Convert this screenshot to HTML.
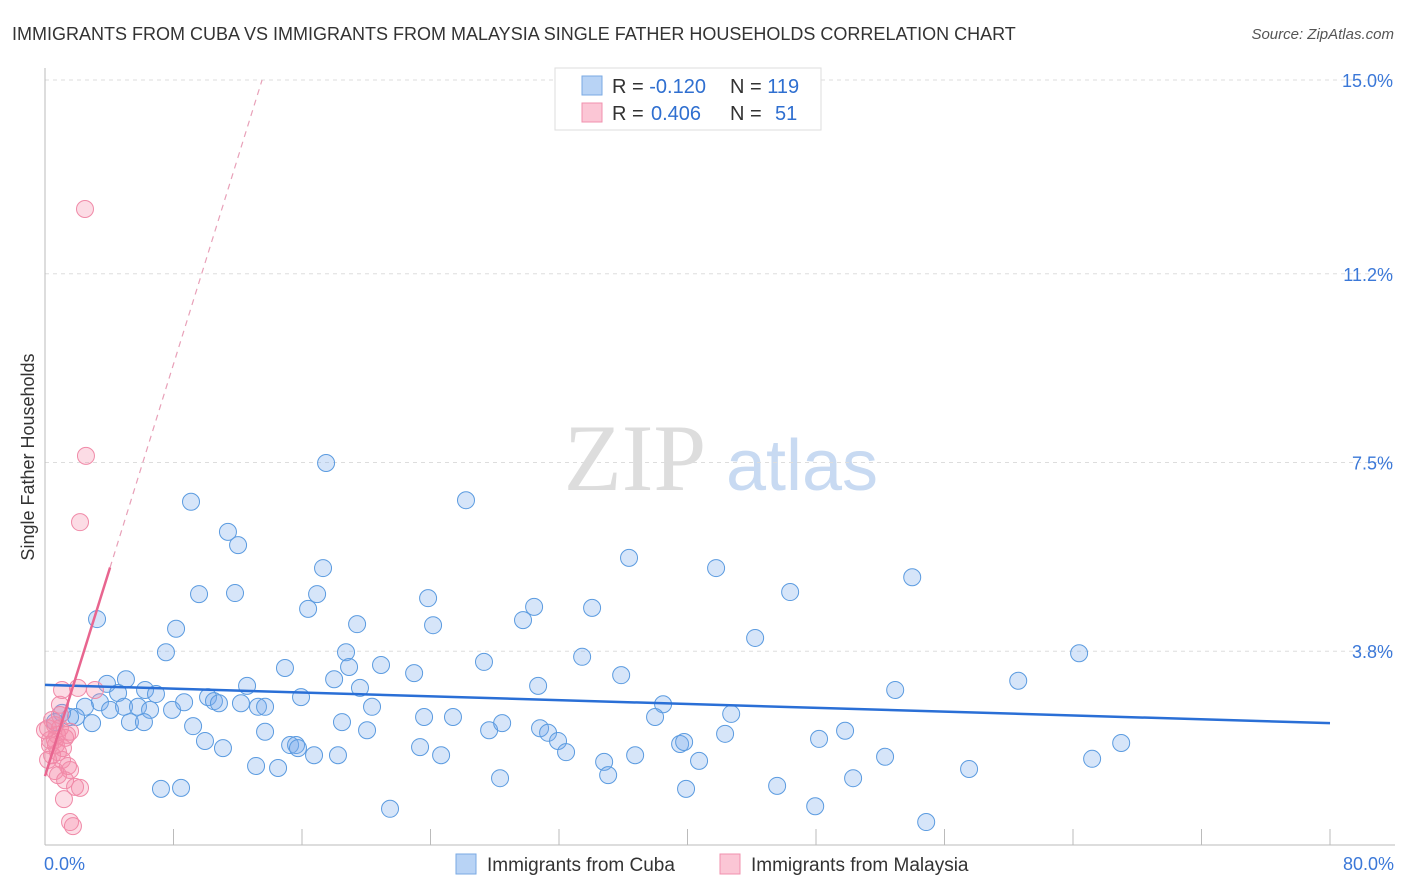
<!DOCTYPE html>
<html><head><meta charset="utf-8"><style>
body{margin:0;background:#fff;font-family:"Liberation Sans",sans-serif}
svg{display:block}
</style></head><body>
<svg id="chart" width="1406" height="892" xmlns="http://www.w3.org/2000/svg">
<text x="12" y="40" font-size="18" fill="#333">IMMIGRANTS FROM CUBA VS IMMIGRANTS FROM MALAYSIA SINGLE FATHER HOUSEHOLDS CORRELATION CHART</text>
<text x="1394" y="39" font-size="15" fill="#555" font-style="italic" text-anchor="end">Source: ZipAtlas.com</text>
<g>
<text x="635" y="490" font-size="95" fill="#ddd" font-family="Liberation Serif,serif" text-anchor="middle">ZIP</text>
<text x="802" y="490" font-size="72" fill="#c8daf2" text-anchor="middle">atlas</text>
</g>
<g id="grid"></g>
<g id="axes"></g>
<g id="pts"></g>
<g id="lines"></g>
<text transform="translate(34,457) rotate(-90)" font-size="18" fill="#333" text-anchor="middle">Single Father Households</text>
<g>
<rect x="555" y="68" width="266" height="62" fill="#fff" stroke="#ddd"/>
<rect x="582" y="76" width="20" height="19" fill="#b8d3f5" stroke="#7aa9e3"/>
<rect x="582" y="103" width="20" height="19" fill="#fbc6d5" stroke="#f090ae"/>
<text x="612" y="93" font-size="20" fill="#333">R = <tspan fill="#2f6fd0">-0.120</tspan></text>
<text x="730" y="93" font-size="20" fill="#333">N = <tspan fill="#2f6fd0">119</tspan></text>
<text x="612" y="120" font-size="20" fill="#333">R = <tspan fill="#2f6fd0" x="651">0.406</tspan></text>
<text x="730" y="120" font-size="20" fill="#333">N = <tspan fill="#2f6fd0" x="775">51</tspan></text>
</g>
<g>
<rect x="456" y="854" width="20" height="20" fill="#b8d3f5" stroke="#7aa9e3"/>
<text x="487" y="871" font-size="19" fill="#333">Immigrants from Cuba</text>
<rect x="720" y="854" width="20" height="20" fill="#fbc6d5" stroke="#f090ae"/>
<text x="751" y="871" font-size="19" fill="#333">Immigrants from Malaysia</text>
</g>
</svg>
<script>
const yTicks=[3.8,7.5,11.2,15.0];
const yTickLabels=["3.8%","7.5%","11.2%","15.0%"];
const xTickLabels=["0.0%","80.0%"];
const cubaX=[3.24,9.09,17.5,26.21,11.39,12.02,36.36,41.78,53.99,17.31,9.59,11.83,16.94,16.38,23.85,30.45,34.06,46.39,8.16,19.43,24.16,29.76,44.21,7.53,18.74,64.38,27.33,33.44,14.94,18.93,20.92,22.98,35.87,5.04,3.86,6.23,6.91,12.58,18.0,19.61,30.7,52.93,60.59,4.55,3.42,2.49,4.05,4.92,5.79,6.54,7.91,8.66,10.15,10.52,10.83,12.2,13.26,13.7,15.94,20.36,5.29,6.16,2.93,1.93,1.56,1.06,0.62,9.22,13.7,18.49,20.05,23.6,25.4,27.65,28.46,30.82,31.32,31.94,38.48,37.98,42.72,9.96,11.08,15.26,15.63,15.75,23.35,24.66,32.44,39.54,39.79,42.34,48.19,49.81,67.0,13.14,14.51,16.75,18.24,28.33,34.81,35.06,36.74,40.72,52.3,57.53,65.19,7.22,8.47,21.48,39.91,45.58,47.95,50.31,54.86];
const cubaY=[4.43,6.73,7.49,6.76,6.14,5.88,5.63,5.43,5.25,5.43,4.92,4.94,4.92,4.63,4.84,4.67,4.65,4.96,4.24,4.33,4.31,4.41,4.06,3.78,3.78,3.76,3.59,3.69,3.47,3.49,3.53,3.37,3.33,3.25,3.16,3.04,2.96,3.12,3.25,3.08,3.12,3.04,3.22,2.98,2.8,2.71,2.65,2.71,2.71,2.65,2.65,2.8,2.9,2.82,2.78,2.78,2.71,2.71,2.9,2.71,2.41,2.41,2.39,2.51,2.51,2.59,2.41,2.33,2.22,2.41,2.25,2.51,2.51,2.25,2.39,2.29,2.2,2.04,2.76,2.51,2.57,2.04,1.9,1.96,1.96,1.9,1.92,1.76,1.82,1.98,2.02,2.18,2.08,2.24,2.0,1.55,1.51,1.76,1.76,1.31,1.63,1.37,1.76,1.65,1.73,1.49,1.69,1.1,1.12,0.71,1.1,1.16,0.76,1.31,0.45];
const malX=[2.49,2.55,2.18,0.44,0.93,1.06,2.05,3.11,0.75,0.31,0.44,0.62,0.93,1.25,1.56,0.19,0.31,0.81,1.06,1.43,0.62,1.56,0.81,1.25,1.87,2.18,1.18,1.56,1.74,0.19,0.68,1.12,1.37,0.0,0.93,0.62];
const malY=[12.47,7.63,6.33,2.45,2.75,3.04,3.08,3.04,2.16,1.96,1.76,2.06,2.29,2.1,2.22,2.29,2.06,1.82,1.67,1.55,1.45,1.47,1.37,1.27,1.14,1.12,0.9,0.45,0.37,1.67,1.96,1.9,2.16,2.25,2.55,2.35];
const cubaTrend=[3.14,2.39];
const malTrend=[1.35,1.01];

const NS="http://www.w3.org/2000/svg";
const X0=45,X1=1330,Y0=845;
function sx(v){return X0+v*(X1-X0)/80;}
function sy(v){return Y0-v*51.0;}
function mk(tag,attrs,parent){const e=document.createElementNS(NS,tag);for(const k in attrs)e.setAttribute(k,attrs[k]);parent.appendChild(e);return e;}
const grid=document.getElementById('grid'),axes=document.getElementById('axes'),pts=document.getElementById('pts'),lines=document.getElementById('lines');
yTicks.forEach((t,i)=>{
 const l=mk('line',{x1:X0,x2:1395,y1:sy(t),y2:sy(t),stroke:'#ddd','stroke-dasharray':'4,4'},grid);
 
 
 const tx=mk('text',{x:1393,y:sy(t)+7,'font-size':18,fill:'#3b78d8','text-anchor':'end'},axes);
 tx.textContent=yTickLabels[i];
 
 
});
const ya=mk('line',{x1:X0,x2:X0,y1:68,y2:Y0,stroke:'#bbb'},axes);


const xa=mk('line',{x1:X0,x2:1395,y1:Y0,y2:Y0,stroke:'#bbb'},axes);


for(let v=8;v<=80;v+=8){
 const tk=mk('line',{x1:sx(v),x2:sx(v),y1:Y0-16,y2:Y0,stroke:'#bbb'},axes);
 
 
}
[[0,'start',44],[80,'end',1394]].forEach((a,i)=>{
 const tx=mk('text',{x:a[2],y:870,'font-size':18,fill:'#3b78d8','text-anchor':a[1]},axes);
 tx.textContent=xTickLabels[i];
 
 
});
cubaX.forEach((x,i)=>{
 const c=mk('circle',{cx:sx(x),cy:sy(cubaY[i]),r:8.5,fill:'rgba(120,170,235,0.3)',stroke:'#5b9be0','stroke-width':1},pts);
 
 
});
malX.forEach((x,i)=>{
 const c=mk('circle',{cx:sx(x),cy:sy(malY[i]),r:8.5,fill:'rgba(245,140,170,0.3)',stroke:'#f08aa8','stroke-width':1},pts);
 
 
});
const bl=mk('line',{x1:sx(0),y1:sy(cubaTrend[0]),x2:sx(80),y2:sy(cubaTrend[1]),stroke:'#2a6fd6','stroke-width':2.5},lines);


const xe=4.05;
const pl=mk('line',{x1:sx(0),y1:sy(malTrend[0]),x2:sx(xe),y2:sy(malTrend[0]+malTrend[1]*xe),stroke:'#e8658f','stroke-width':2.5},lines);


const x15=(15-malTrend[0])/malTrend[1];
const pd=mk('line',{x1:sx(xe),y1:sy(malTrend[0]+malTrend[1]*xe),x2:sx(x15),y2:sy(15),stroke:'#e8a0b8','stroke-width':1.2,'stroke-dasharray':'6,5'},lines);


</script>
</body></html>
